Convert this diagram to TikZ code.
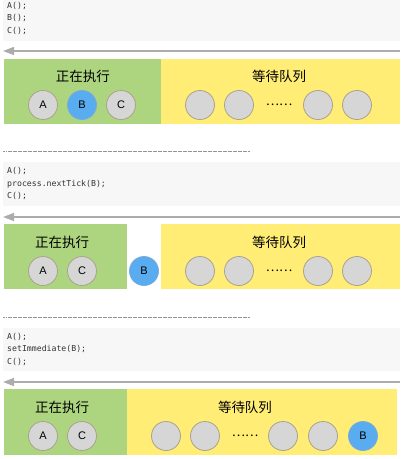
\documentclass[tikz,border=0pt]{standalone}
\usepackage{fontspec}
\setmainfont{Liberation Sans}
\newfontfamily\cjk{Noto Sans CJK SC}
\newfontfamily\codefont{DejaVu Sans Mono}
\usetikzlibrary{arrows.meta}
\definecolor{codebg}{RGB}{247,247,247}
\definecolor{runbg}{RGB}{173,213,128}
\definecolor{waitbg}{RGB}{255,237,118}
\definecolor{ballfill}{RGB}{214,214,214}
\definecolor{ballline}{RGB}{170,162,140}
\definecolor{bluefill}{RGB}{90,172,240}
\definecolor{blueline}{RGB}{120,170,220}
\definecolor{lineg}{RGB}{172,172,172}
\tikzset{
  codebox/.style={fill=codebg, draw=none},
  code/.style={anchor=north west, font=\codefont\fontsize{8.2}{12.5}\selectfont, align=left, inner sep=0pt, text=black!80},
  runbox/.style={fill=runbg, draw=none},
  waitbox/.style={fill=waitbg, draw=none},
  ball/.style={circle, minimum size=29pt, inner sep=0pt, fill=ballfill, draw=ballline, line width=0.8pt, font=\fontsize{11}{13}\selectfont},
  blueball/.style={ball, fill=bluefill, draw=blueline},
  title/.style={font=\cjk\fontsize{13.5}{15}\selectfont, inner sep=0pt},
  dots/.style={font=\cjk\fontsize{12.5}{14}\selectfont, inner sep=0pt},
  timeline/.style={draw=lineg, line width=1.4pt, -{Triangle[length=11pt,width=8pt]}},
  sep/.style={draw=gray!85, line width=0.7pt, dash pattern=on 1.6pt off 0.9pt},
}
\begin{document}
\begin{tikzpicture}[x=1pt,y=-1pt]
\useasboundingbox (0,0) rectangle (400,459);
% ---------- panel 1 ----------
\fill[codebox] (3,0) rectangle (400,41);
\node[code] (c1) at (7,2) {A();\\B();\\C();};
\coordinate (a1s) at (400,51); \coordinate (a1e) at (3,51);
\draw[timeline] (a1s) -- (a1e);
\fill[runbox] (4,59) rectangle (161,124);
\fill[waitbox] (161,59) rectangle (400,124);
\node[title] (r1) at (83,76) {正在执行};
\node[title] (w1) at (279,76) {等待队列};
\node[ball] (p1a) at (43,105) {A};
\node[blueball] (p1b) at (82,105) {B};
\node[ball] (p1c) at (121,105) {C};
\node[ball] (p1q1) at (200,105) {};
\node[ball] (p1q2) at (239,105) {};
\node[dots] (p1d) at (279,105) {……};
\node[ball] (p1q3) at (318,105) {};
\node[ball] (p1q4) at (357,105) {};
% ---------- panel 2 ----------
\coordinate (s1a) at (3,151); \coordinate (s1b) at (250,151);
\draw[sep] (s1a) -- (s1b);
\fill[codebox] (3,162) rectangle (400,206);
\node[code] (c2) at (7,167.5) {A();\\process.nextTick(B);\\C();};
\coordinate (a2s) at (400,217); \coordinate (a2e) at (3,217);
\draw[timeline] (a2s) -- (a2e);
\fill[runbox] (4,224) rectangle (127,289);
\fill[waitbox] (161,224) rectangle (400,289);
\node[title] (r2) at (62,242) {正在执行};
\node[title] (w2) at (279,242) {等待队列};
\node[ball] (p2a) at (43,271) {A};
\node[ball] (p2c) at (82,271) {C};
\node[blueball] (p2b) at (144,271) {B};
\node[ball] (p2q1) at (200,271) {};
\node[ball] (p2q2) at (239,271) {};
\node[dots] (p2d) at (279,271) {……};
\node[ball] (p2q3) at (318,271) {};
\node[ball] (p2q4) at (357,271) {};
% ---------- panel 3 ----------
\coordinate (s2a) at (3,317); \coordinate (s2b) at (250,317);
\draw[sep] (s2a) -- (s2b);
\fill[codebox] (3,328) rectangle (400,371);
\node[code] (c3) at (7,333) {A();\\setImmediate(B);\\C();};
\coordinate (a3s) at (400,382); \coordinate (a3e) at (3,382);
\draw[timeline] (a3s) -- (a3e);
\fill[runbox] (4,389) rectangle (127,455);
\fill[waitbox] (127,389) rectangle (397,455);
\node[title] (r3) at (62,407) {正在执行};
\node[title] (w3) at (245,407) {等待队列};
\node[ball] (p3a) at (43,436) {A};
\node[ball] (p3c) at (82,436) {C};
\node[ball] (p3q1) at (166,436) {};
\node[ball] (p3q2) at (205,436) {};
\node[dots] (p3d) at (245,436) {……};
\node[ball] (p3q3) at (283,436) {};
\node[ball] (p3q4) at (323,436) {};
\node[blueball] (p3b) at (363,436) {B};
\end{tikzpicture}
\end{document}
